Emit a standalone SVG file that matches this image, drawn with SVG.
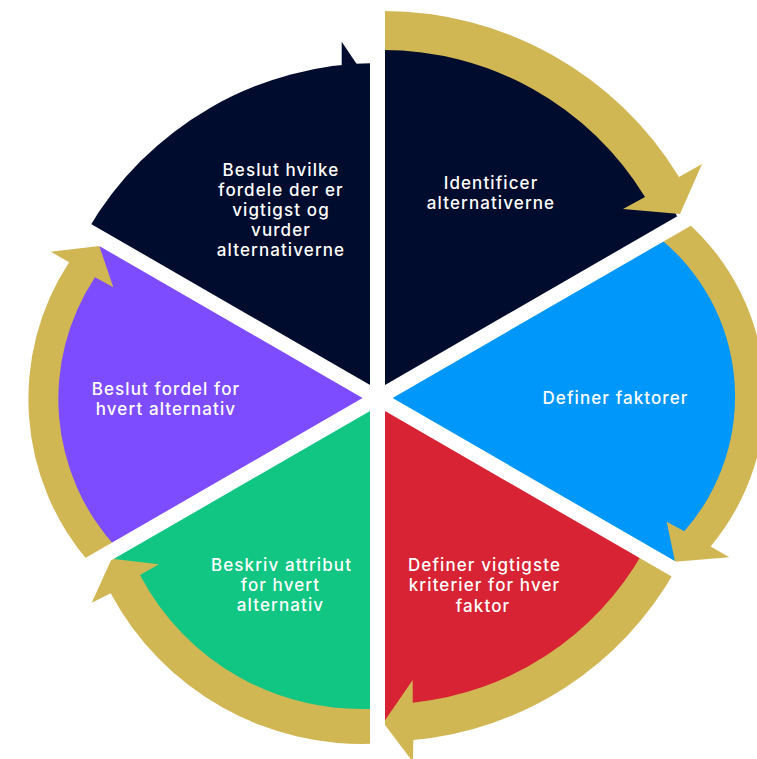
<svg xmlns="http://www.w3.org/2000/svg" width="757" height="759" viewBox="0 0 757 759">
<style>
.lbl{font-family:Inter,"Open Sans","Liberation Sans",sans-serif;font-size:17px;font-weight:500;letter-spacing:1.1px;fill:#ffffff;text-anchor:middle}
.gold{fill:#d1b654}
.gap{stroke:#ffffff;stroke-width:15;fill:none}
</style>
<rect width="757" height="759" fill="#ffffff"/>
<g id="node-identificer">
<path fill="#000c2d" d="M377.5 398 L377.5 31 A326 326 0 0 1 680.3 223.2 Z"/>
<text class="lbl"><tspan x="491" y="189">Identificer</tspan><tspan x="491" y="209">alternativerne</tspan></text>
</g>
<g id="node-definer-faktorer">
<path fill="#0097fb" d="M377.5 398 L671.3 228.35 A219 219 0 0 1 669.2 566.4 Z"/>
<text class="lbl"><tspan x="615.5" y="404">Definer faktorer</tspan></text>
</g>
<g id="node-definer-kriterier">
<path fill="#d72333" d="M377.5 398 L659.5 560.8 A317.5 317.5 0 0 1 377.5 723 Z"/>
<text class="lbl"><tspan x="484.5" y="571">Definer vigtigste</tspan><tspan x="484.5" y="591">kriterier for hver</tspan><tspan x="483" y="611.5">faktor</tspan></text>
</g>
<g id="node-beskriv-attribut">
<path fill="#10c682" d="M377.5 398 L377.5 726 A267.5 267.5 0 0 1 110.8 552 Z"/>
<text class="lbl"><tspan x="281.5" y="571">Beskriv attribut</tspan><tspan x="280.5" y="591">for hvert</tspan><tspan x="280.5" y="611">alternativ</tspan></text>
</g>
<g id="node-beslut-fordel">
<path fill="#7e4cff" d="M377.5 398 L103.7 556.1 A235 235 0 0 1 104.9 240.6 Z"/>
<text class="lbl"><tspan x="166" y="395">Beslut fordel for</tspan><tspan x="166" y="415">hvert alternativ</tspan></text>
</g>
<g id="node-beslut-hvilke">
<path fill="#000c2d" d="M377.5 398 L87.4 230.5 A335 335 0 0 1 377.5 63 Z"/>
<path fill="#000c2d" d="M341.7 41.7 L357 64.5 L341.7 66 Z"/>
<text class="lbl"><tspan x="281" y="176">Beslut hvilke</tspan><tspan x="281" y="196">fordele der er</tspan><tspan x="281" y="216">vigtigst og</tspan><tspan x="281" y="236">vurder</tspan><tspan x="281" y="255.5">alternativerne</tspan></text>
</g>
<g id="connectors">
<path class="gold" d="M382 11 A346 346 0 0 1 679 177 L702 164 L680 214 L623 209 L645 197 A307 307 0 0 0 382 50 Z"/>
<path class="gold" d="M685.1 220.4 A234 234 0 0 1 710.7 546.4 L729.3 557.3 L675 561.7 L666.7 521.7 L684.25 531.3 A204 204 0 0 0 657.4 236.4 Z"/>
<path class="gold" d="M675.5 570.1 A336 336 0 0 1 413.3 740 L413 762 L383.3 722.7 L412.7 680 L412.7 702.7 A299 299 0 0 0 643.5 551.6 Z"/>
<path class="gold" d="M377.5 743.6 A285 285 0 0 1 110.7 593.3 L91.7 602.7 L111.7 558.8 L159 564.3 L140 575 A250 250 0 0 0 377.5 708.5 Z"/>
<path class="gold" d="M90.4 563.75 A250 250 0 0 1 69.1 262.2 L50.7 251.7 L99.3 246 L113.3 287.3 L95 277.3 A220 220 0 0 0 117 548.4 Z"/>
</g>
<g id="gaps" class="gap">
<line x1="377.5" y1="0" x2="377.5" y2="759"/>
<line x1="-55.5" y1="648" x2="810.5" y2="148"/>
<line x1="-55.5" y1="148" x2="810.5" y2="648"/>
</g>
</svg>
